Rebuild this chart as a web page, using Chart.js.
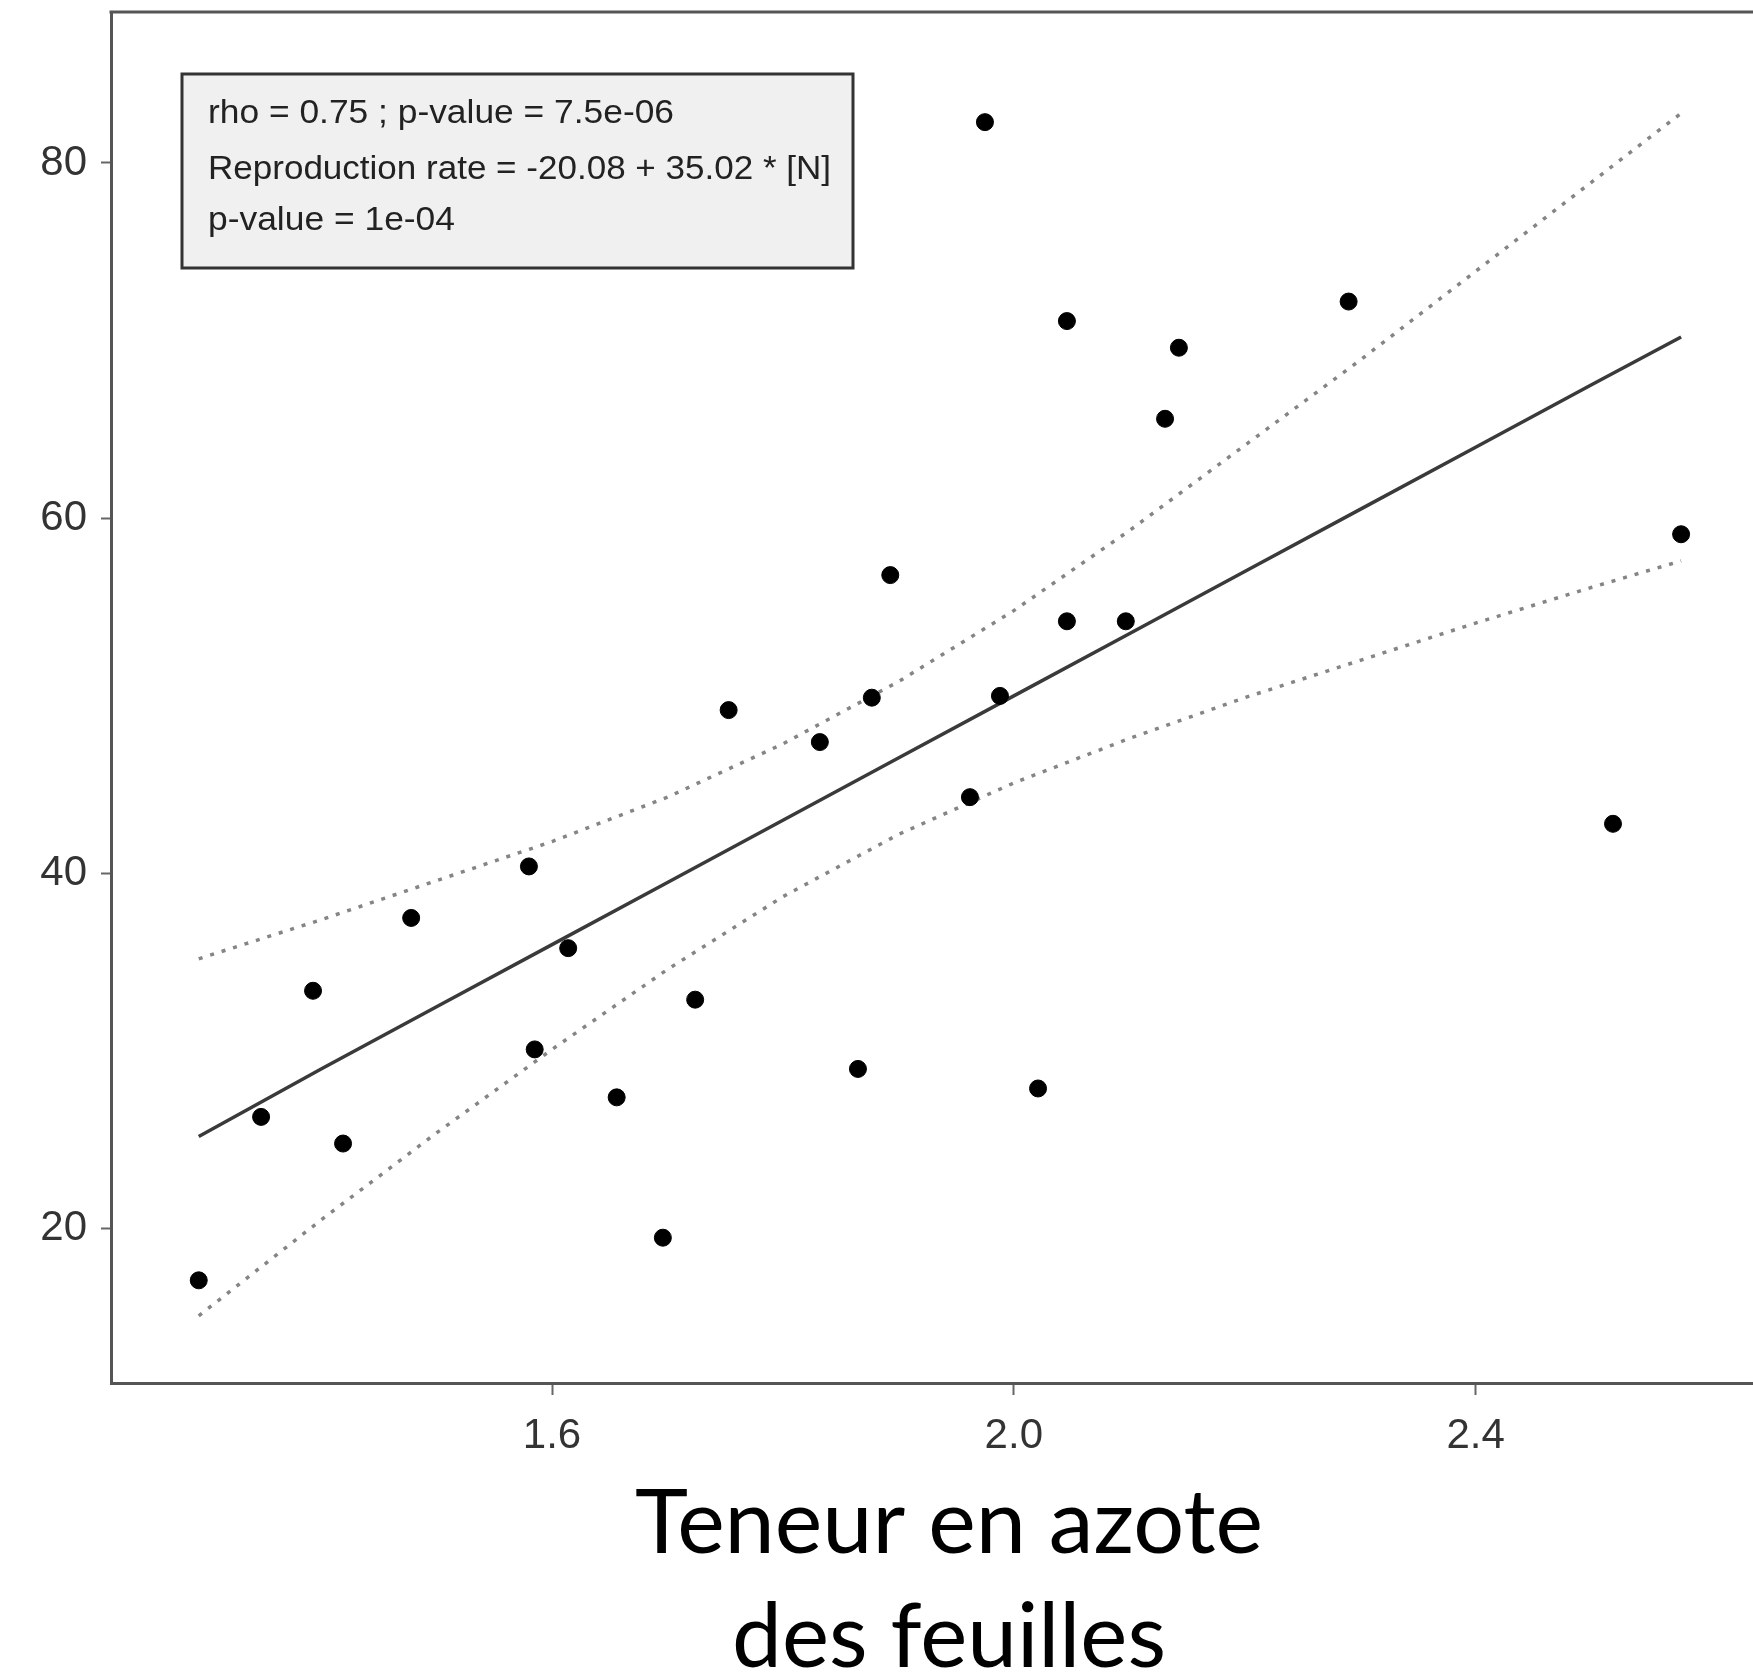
<!DOCTYPE html>
<html>
<head>
<meta charset="utf-8">
<script src="https://cdn.jsdelivr.net/npm/chart.js@4.4.1/dist/chart.umd.min.js"></script>
<style>
  html, body { margin: 0; padding: 0; background: #fff; overflow: hidden; }
  #wrap { width: 1800px; height: 1673px; }
</style>
</head>
<body>
<div id="wrap"><canvas id="myChart" width="1800" height="1673"></canvas></div>
<script>
// leaf nitrogen (x) vs reproduction rate (y)
const nitrogen = [1.294, 1.348, 1.393, 1.419, 1.478, 1.580, 1.585, 1.614, 1.656, 1.696,
                  1.724, 1.753, 1.832, 1.865, 1.877, 1.893, 1.962, 1.975, 1.988, 2.021,
                  2.046, 2.046, 2.097, 2.131, 2.143, 2.290, 2.519, 2.578];
const reproduction = [17.1, 26.3, 33.4, 24.8, 37.5, 40.4, 30.1, 35.8, 27.4, 19.5,
                      32.9, 49.2, 47.4, 29.0, 49.9, 56.8, 44.3, 82.3, 50.0, 27.9,
                      71.1, 54.2, 54.2, 65.6, 69.6, 72.2, 42.8, 59.1];

// fitted line and dotted confidence band, sampled along x
const fitX = [1.294, 1.4, 1.5, 1.6, 1.7, 1.8, 1.9, 2.0, 2.1, 2.2, 2.3, 2.4, 2.5, 2.578];
const fitY = [25.2, 29.0, 32.5, 36.0, 39.5, 43.0, 46.5, 50.0, 53.5, 57.0, 60.5, 64.0, 67.5, 70.2];
const upperY = [35.2, 37.4, 39.6, 41.8, 44.3, 47.3, 50.8, 54.8, 59.3, 64.1, 68.9, 73.9, 78.9, 82.8];
const lowerY = [15.1, 20.5, 25.4, 30.1, 34.6, 38.7, 42.2, 45.1, 47.6, 49.9, 52.0, 54.1, 56.1, 57.6];

const xTicks = [1.6, 2.0, 2.4];
const yTicks = [20, 40, 60, 80];

const statLines = [
    'rho = 0.75 ; p-value = 7.5e-06',
    'Reproduction rate = -20.08 + 35.02 * [N]',
    'p-value = 1e-04'
];
const xTitle = ['Teneur en azote', 'des feuilles'];

const toXY = (xs, ys) => xs.map((x, i) => ({x: x, y: ys[i]}));

// draw text squeezed horizontally to a given width
function squeezed(ctx, text, x, y, font, width, align) {
    ctx.save();
    ctx.font = font;
    const w = ctx.measureText(text).width;
    const s = width / w;
    let left = x;
    if (align === 'center') left = x - width / 2;
    ctx.translate(left, y);
    ctx.scale(s, 1);
    ctx.textAlign = 'left';
    ctx.textBaseline = 'alphabetic';
    ctx.fillText(text, 0, 0);
    ctx.restore();
}

const decorations = {
    id: 'decorations',
    afterDraw(chart) {
        const ctx = chart.ctx;
        const area = chart.chartArea;

        // top frame line
        ctx.save();
        ctx.strokeStyle = '#555';
        ctx.lineWidth = 3;
        ctx.beginPath();
        ctx.moveTo(area.left - 1.5, area.top);
        ctx.lineTo(area.right + 50, area.top);
        ctx.stroke();

        // stats box
        ctx.fillStyle = '#f0f0f0';
        ctx.fillRect(182, 74, 671, 194);
        ctx.strokeStyle = '#333';
        ctx.lineWidth = 3;
        ctx.strokeRect(182, 74, 671, 194);
        ctx.fillStyle = '#222';
        squeezed(ctx, statLines[0], 208, 123, '34px "Liberation Sans", Arial, sans-serif', 466);
        squeezed(ctx, statLines[1], 208, 179, '34px "Liberation Sans", Arial, sans-serif', 623);
        squeezed(ctx, statLines[2], 208, 230, '34px "Liberation Sans", Arial, sans-serif', 247);

        // axis title
        ctx.fillStyle = '#000';
        squeezed(ctx, xTitle[0], 949, 1553, '89px Lato, "Open Sans", sans-serif', 628, 'center');
        squeezed(ctx, xTitle[1], 949, 1667, '89px Lato, "Open Sans", sans-serif', 434, 'center');
        ctx.restore();
    }
};

const ctx = document.getElementById('myChart').getContext('2d');
const chart = new Chart(ctx, {
    type: 'scatter',
    data: {
        datasets: [
            {
                data: toXY(nitrogen, reproduction),
                backgroundColor: '#000',
                borderColor: '#000',
                pointRadius: 8.5,
                order: 0
            },
            {
                data: toXY(fitX, fitY),
                showLine: true,
                borderColor: '#3a3a3a',
                borderWidth: 3.5,
                pointRadius: 0,
                order: 1
            },
            {
                data: toXY(fitX, upperY),
                showLine: true,
                borderColor: '#858585',
                borderWidth: 3.5,
                borderDash: [4, 8],
                pointRadius: 0,
                order: 2
            },
            {
                data: toXY(fitX, lowerY),
                showLine: true,
                borderColor: '#858585',
                borderWidth: 3.5,
                borderDash: [4, 8],
                pointRadius: 0,
                order: 2
            }
        ]
    },
    options: {
        responsive: false,
        animation: false,
        devicePixelRatio: 1,
        layout: { padding: { left: 0, top: 12, right: 30, bottom: 0 } },
        plugins: {
            legend: { display: false },
            tooltip: { enabled: false }
        },
        scales: {
            x: {
                type: 'linear',
                min: 1.218,
                max: 2.655,
                afterBuildTicks: (scale) => { scale.ticks = xTicks.map(v => ({value: v})); },
                afterFit: (scale) => {
                    scale.height = 290;
                    scale.paddingLeft = 0;
                    scale.paddingRight = 0;
                },
                border: { display: true, color: '#555', width: 3 },
                grid: { drawOnChartArea: false, drawTicks: true, tickLength: 12, color: '#666', tickWidth: 2 },
                ticks: {
                    color: '#333',
                    padding: 16,
                    font: { family: '"Liberation Sans", Arial, sans-serif', size: 42 },
                    callback: (v) => v.toFixed(1)
                }
            },
            y: {
                min: 11.32,
                max: 88.5,
                afterBuildTicks: (scale) => { scale.ticks = yTicks.map(v => ({value: v})); },
                afterFit: (scale) => {
                    scale.width = 111;
                    scale.paddingTop = 0;
                    scale.paddingBottom = 0;
                },
                border: { display: true, color: '#555', width: 3 },
                grid: { drawOnChartArea: false, drawTicks: true, tickLength: 10, color: '#666', tickWidth: 2 },
                ticks: {
                    color: '#333',
                    padding: 14,
                    font: { family: '"Liberation Sans", Arial, sans-serif', size: 42 },
                    callback: (v) => String(v)
                }
            }
        }
    },
    plugins: [decorations]
});
</script>
</body>
</html>
